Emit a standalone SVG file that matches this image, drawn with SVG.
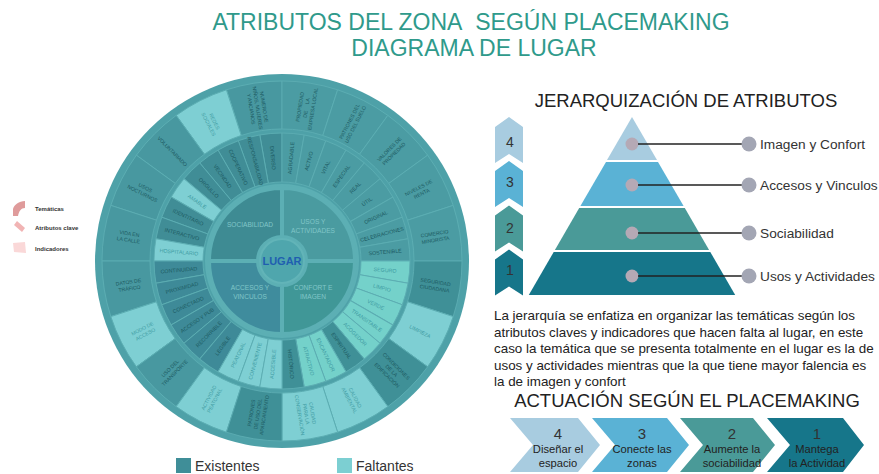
<svg xmlns="http://www.w3.org/2000/svg" width="879" height="474" viewBox="0 0 879 474">
<style>
text{font-family:"Liberation Sans",Arial,Helvetica,sans-serif}
.w{font-size:5.3px;fill:#1c5a62;text-anchor:middle}
.wi{font-size:5.1px;fill:#1c5a62;text-anchor:middle}
.wl{fill:#3f9ca3}
.q{font-size:6.6px;fill:#80c6c8;text-anchor:middle}
.ex1{fill:#4898a0}
.ex2{fill:#408d96}
.ex3{fill:#3e8a98}
.ex4{fill:#4b9ca3}
.ex5{fill:#3f9097}
.lt{fill:#7ecfd3}
.ltg{fill:#74d1ca}
.cell{stroke:#5cadb2;stroke-width:0.9}
.lbl{font-size:13.7px;fill:#333}
.num{font-size:14px;fill:#333;text-anchor:middle}
.snum{font-size:15px;fill:#333;text-anchor:middle}
.stp{font-size:11.2px;fill:#222;text-anchor:middle}
.para{font-size:13.4px;fill:#222}
.hd{font-size:18.5px;fill:#222;text-anchor:middle}
.lg{font-size:6px;font-weight:bold;fill:#333}
</style>
<defs>
<path id="att" d="M79,0 L128,0 A128,128 0 0 1 126.055,22.227 L77.8,13.718 A79,79 0 0 0 79,0 Z"/>
<path id="ind" d="M132,0 L180,0 A180,180 0 0 1 171.19,55.623 L125.54,40.79 A132,132 0 0 0 132,0 Z"/>
<path id="quad" d="M24,0 L73,0 A73,73 0 0 1 0,73 L0,24 A24,24 0 0 0 24,0 Z"/>
</defs>

<g id="title" fill="#2f9a8b" font-size="23" text-anchor="middle">
<text x="471" y="30">ATRIBUTOS DEL ZONA&#160; SEGÚN PLACEMAKING</text>
<text x="474" y="56">DIAGRAMA DE LUGAR</text>
</g>

<g id="wheel" transform="translate(282,261)">
<circle r="187" fill="#4ea1a8"/>
<circle r="77" fill="#5cafb4"/>
<g id="indicator-cells" class="cell">
<use href="#ind" class="ex1" transform="rotate(-108)"/>
<use href="#ind" class="lt" transform="rotate(-126)"/>
<use href="#ind" class="ex1" transform="rotate(-144)"/>
<use href="#ind" class="ex1" transform="rotate(-162)"/>
<use href="#ind" class="ex1" transform="rotate(-180)"/>
<use href="#ind" class="ex4" transform="rotate(-90)"/>
<use href="#ind" class="ex4" transform="rotate(-72)"/>
<use href="#ind" class="ex4" transform="rotate(-54)"/>
<use href="#ind" class="ex4" transform="rotate(-36)"/>
<use href="#ind" class="ex4" transform="rotate(-18)"/>
<use href="#ind" class="ex5" transform="rotate(0)"/>
<use href="#ind" class="lt" transform="rotate(18)"/>
<use href="#ind" class="ex5" transform="rotate(36)"/>
<use href="#ind" class="lt" transform="rotate(54)"/>
<use href="#ind" class="lt" transform="rotate(72)"/>
<use href="#ind" class="ex1" transform="rotate(162)"/>
<use href="#ind" class="lt" transform="rotate(144)"/>
<use href="#ind" class="ex1" transform="rotate(126)"/>
<use href="#ind" class="lt" transform="rotate(108)"/>
<use href="#ind" class="ex5" transform="rotate(90)"/>
</g>
<g id="attribute-cells" class="cell">
<use href="#att" class="ex2" transform="rotate(-100)"/>
<use href="#att" class="ex2" transform="rotate(-110)"/>
<use href="#att" class="ex2" transform="rotate(-120)"/>
<use href="#att" class="ex2" transform="rotate(-130)"/>
<use href="#att" class="ex2" transform="rotate(-140)"/>
<use href="#att" class="lt" transform="rotate(-150)"/>
<use href="#att" class="ex2" transform="rotate(-160)"/>
<use href="#att" class="ex2" transform="rotate(-170)"/>
<use href="#att" class="lt" transform="rotate(-180)"/>
<use href="#att" class="ex4" transform="rotate(-90)"/>
<use href="#att" class="ex4" transform="rotate(-80)"/>
<use href="#att" class="ex4" transform="rotate(-70)"/>
<use href="#att" class="ex4" transform="rotate(-60)"/>
<use href="#att" class="ex4" transform="rotate(-50)"/>
<use href="#att" class="ex4" transform="rotate(-40)"/>
<use href="#att" class="ex4" transform="rotate(-30)"/>
<use href="#att" class="ex4" transform="rotate(-20)"/>
<use href="#att" class="ex4" transform="rotate(-10)"/>
<use href="#att" class="ltg" transform="rotate(0)"/>
<use href="#att" class="ltg" transform="rotate(10)"/>
<use href="#att" class="ltg" transform="rotate(20)"/>
<use href="#att" class="ltg" transform="rotate(30)"/>
<use href="#att" class="ltg" transform="rotate(40)"/>
<use href="#att" class="ex5" transform="rotate(50)"/>
<use href="#att" class="ltg" transform="rotate(60)"/>
<use href="#att" class="ltg" transform="rotate(70)"/>
<use href="#att" class="ex5" transform="rotate(80)"/>
<use href="#att" class="ex3" transform="rotate(170)"/>
<use href="#att" class="ex3" transform="rotate(160)"/>
<use href="#att" class="ex3" transform="rotate(150)"/>
<use href="#att" class="ex3" transform="rotate(140)"/>
<use href="#att" class="ex3" transform="rotate(130)"/>
<use href="#att" class="ex3" transform="rotate(120)"/>
<use href="#att" class="lt" transform="rotate(110)"/>
<use href="#att" class="lt" transform="rotate(100)"/>
<use href="#att" class="lt" transform="rotate(90)"/>
</g>
<g id="thematic" stroke="#5cafb4" stroke-width="4">
<use href="#quad" fill="#409797" transform="rotate(0)"/>
<use href="#quad" fill="#3f8c9d" transform="rotate(90)"/>
<use href="#quad" fill="#3e8b93" transform="rotate(180)"/>
<use href="#quad" fill="#4a9ba0" transform="rotate(270)"/>
</g>
<g id="lugar">
<circle r="22" fill="#4fa6ad" stroke="#62b4b8" stroke-width="2"/>
<text y="4" font-size="11" font-weight="bold" fill="#1f5fb0" text-anchor="middle">LUGAR</text>
</g>
<g id="thematic-labels">
<text class="q" x="-32" y="-34">SOCIABILIDAD</text>
<text class="q" x="31" y="-37">USOS Y<tspan x="31" dy="8.5">ACTIVIDADES</tspan></text>
<text class="q" x="-32" y="29">ACCESOS Y<tspan x="-32" dy="8.5">VINCULOS</tspan></text>
<text class="q" x="31" y="29">CONFORT E<tspan x="31" dy="8.5">IMAGEN</tspan></text>
</g>
<g id="attribute-labels" class="w">
<text transform="rotate(-95) translate(103.5,0) rotate(180)" y="1.9">DIVERSO</text>
<text transform="rotate(-105) translate(103.5,0) rotate(180)" y="1.9">RESPONSABILIDAD</text>
<text transform="rotate(-115) translate(103.5,0) rotate(180)" y="1.9">COOPERATIVO</text>
<text transform="rotate(-125) translate(103.5,0) rotate(180)" y="1.9">VECINDAD</text>
<text transform="rotate(-135) translate(103.5,0) rotate(180)" y="1.9">ORGULLO</text>
<text class="wl" transform="rotate(-145) translate(103.5,0) rotate(180)" y="1.9">AMABLE</text>
<text transform="rotate(-155) translate(103.5,0) rotate(180)" y="1.9">IDENTITARIO</text>
<text transform="rotate(-165) translate(103.5,0) rotate(180)" y="1.9">INTERACTIVO</text>
<text class="wl" transform="rotate(-175) translate(103.5,0) rotate(180)" y="1.9">HOSPITALARIO</text>
<text transform="rotate(-85) translate(103.5,0)" y="1.9">AGRADABLE</text>
<text transform="rotate(-75) translate(103.5,0)" y="1.9">ACTIVO</text>
<text transform="rotate(-65) translate(103.5,0)" y="1.9">VITAL</text>
<text transform="rotate(-55) translate(103.5,0)" y="1.9">ESPECIAL</text>
<text transform="rotate(-45) translate(103.5,0)" y="1.9">REAL</text>
<text transform="rotate(-35) translate(103.5,0)" y="1.9">ÚTIL</text>
<text transform="rotate(-25) translate(103.5,0)" y="1.9">ORIGINAL</text>
<text transform="rotate(-15) translate(103.5,0)" y="1.9">CELEBRACIONES</text>
<text transform="rotate(-5) translate(103.5,0)" y="1.9">SOSTENIBLE</text>
<text class="wl" transform="rotate(5) translate(103.5,0)" y="1.9">SEGURO</text>
<text class="wl" transform="rotate(15) translate(103.5,0)" y="1.9">LIMPIO</text>
<text class="wl" transform="rotate(25) translate(103.5,0)" y="1.9">VERDE</text>
<text class="wl" transform="rotate(35) translate(103.5,0)" y="1.9">TRANSITABLE</text>
<text class="wl" transform="rotate(45) translate(103.5,0)" y="1.9">ACOGEDOR</text>
<text transform="rotate(55) translate(103.5,0)" y="1.9">ESPIRITUAL</text>
<text class="wl" transform="rotate(65) translate(103.5,0)" y="1.9">ENCANTADOR</text>
<text class="wl" transform="rotate(75) translate(103.5,0)" y="1.9">ATRACTIVO</text>
<text transform="rotate(85) translate(103.5,0)" y="1.9">HISTÓRICO</text>
<text transform="rotate(175) translate(103.5,0) rotate(180)" y="1.9">CONTINUIDAD</text>
<text transform="rotate(165) translate(103.5,0) rotate(180)" y="1.9">PROXIMIDAD</text>
<text transform="rotate(155) translate(103.5,0) rotate(180)" y="1.9">CONECTADO</text>
<text transform="rotate(145) translate(103.5,0) rotate(180)" y="1.9">ACCESO Y PUB</text>
<text transform="rotate(135) translate(103.5,0) rotate(180)" y="1.9">RECORRIBLE</text>
<text transform="rotate(125) translate(103.5,0) rotate(180)" y="1.9">LEGIBLE</text>
<text class="wl" transform="rotate(115) translate(103.5,0) rotate(180)" y="1.9">PEATONAL</text>
<text class="wl" transform="rotate(105) translate(103.5,0) rotate(180)" y="1.9">CONVENIENTE</text>
<text class="wl" transform="rotate(95) translate(103.5,0) rotate(180)" y="1.9">ACCESIBLE</text>
</g>
<g id="indicator-labels" class="wi">
<text transform="rotate(-99) translate(155,0) rotate(180)" y="-4.6">NUMERO DE<tspan x="0" dy="6.5">NIÑOS, MUJERES</tspan><tspan x="0" dy="6.5">Y ANCIANOS</tspan></text>
<text class="wl" transform="rotate(-117) translate(155,0) rotate(180)" y="-1.4">REDES<tspan x="0" dy="6.5">SOCIALES</tspan></text>
<text transform="rotate(-135) translate(155,0) rotate(180)" y="1.9">VOLUNTARIADO</text>
<text transform="rotate(-153) translate(155,0) rotate(180)" y="-1.4">USOS<tspan x="0" dy="6.5">NOCTURNOS</tspan></text>
<text transform="rotate(-171) translate(155,0) rotate(180)" y="-1.4">VIDA EN<tspan x="0" dy="6.5">LA CALLE</tspan></text>
<text transform="rotate(-81) translate(155,0)" y="-4.6">PROPIEDAD<tspan x="0" dy="6.5" word-spacing="5">DE LA</tspan><tspan x="0" dy="6.5">EMPRESA LOCAL</tspan></text>
<text transform="rotate(-63) translate(155,0)" y="-1.4">PATRONES DEL<tspan x="0" dy="6.5">USO DEL SUELO</tspan></text>
<text transform="rotate(-45) translate(155,0)" y="-1.4">VALORES DE<tspan x="0" dy="6.5">PROPIEDAD</tspan></text>
<text transform="rotate(-27) translate(155,0)" y="-1.4">NIVELES DE<tspan x="0" dy="6.5">RENTA</tspan></text>
<text transform="rotate(-9) translate(155,0)" y="-1.4">COMERCIO<tspan x="0" dy="6.5">MINORISTA</tspan></text>
<text transform="rotate(9) translate(155,0)" y="-1.4">SEGURIDAD<tspan x="0" dy="6.5">CIUDADANA</tspan></text>
<text class="wl" transform="rotate(27) translate(155,0)" y="1.9">LIMPIEZA</text>
<text transform="rotate(45) translate(155,0)" y="-4.6">CONDICIONES<tspan x="0" dy="6.5">DE LA</tspan><tspan x="0" dy="6.5">EDIFICACIÓN</tspan></text>
<text class="wl" transform="rotate(63) translate(155,0)" y="-1.4">CALIDAD<tspan x="0" dy="6.5">AMBIENTAL</tspan></text>
<text class="wl" transform="rotate(81) translate(155,0)" y="-4.6">CALIDAD<tspan x="0" dy="6.5">PARA LA</tspan><tspan x="0" dy="6.5">CONSERVACIÓN</tspan></text>
<text transform="rotate(171) translate(155,0) rotate(180)" y="-1.4">DATOS DE<tspan x="0" dy="6.5">TRÁFICO</tspan></text>
<text class="wl" transform="rotate(153) translate(155,0) rotate(180)" y="-1.4">MODO DE<tspan x="0" dy="6.5">ACCESO</tspan></text>
<text transform="rotate(135) translate(155,0) rotate(180)" y="-1.4">USO DEL<tspan x="0" dy="6.5">TRANSPORTE</tspan></text>
<text class="wl" transform="rotate(117) translate(155,0) rotate(180)" y="-1.4">ACTIVIDAD<tspan x="0" dy="6.5">PEATONAL</tspan></text>
<text transform="rotate(99) translate(155,0) rotate(180)" y="-4.6">PATRONES<tspan x="0" dy="6.5">DE USO DEL</tspan><tspan x="0" dy="6.5">APARCAMIENTO</tspan></text>
</g>
</g>

<g id="legend-wheel">
<path d="M13,216 L13,209 C14,205 19,201 25,201 L25,208 C21,208 19,211 18,216 Z" fill="#df9b9b"/>
<text class="lg" x="35" y="211">Temáticas</text>
<path d="M14,225 L17,221 L25,228 L22,232 Z" fill="#f1b4b4"/>
<text class="lg" x="35" y="230">Atributos clave</text>
<path d="M13,243 L25,242 L26,253 L14,252 Z" fill="#fad8d8"/>
<text class="lg" x="35" y="251">Indicadores</text>
</g>

<g id="legend-status">
<rect x="176" y="458" width="15" height="15" fill="#3f8e98"/>
<text x="195" y="471" font-size="14" fill="#333">Existentes</text>
<rect x="337" y="458" width="15" height="15" fill="#7ccfd2"/>
<text x="356" y="471" font-size="14" fill="#333">Faltantes</text>
</g>

<text id="jerarquia-title" class="hd" x="686" y="107">JERARQUIZACIÓN DE ATRIBUTOS</text>

<g id="levels">
<g id="level4"><path d="M495,127 L509,117 L523,127 L523,163 L509,154 L495,163 Z" fill="#a8cce0"/><text class="num" x="510" y="147">4</text></g>
<g id="level3"><path d="M495,171 L509,161 L523,171 L523,207 L509,198 L495,207 Z" fill="#5ab2d5"/><text class="num" x="510" y="187">3</text></g>
<g id="level2"><path d="M495,215.5 L509,205.5 L523,215.5 L523,251.5 L509,242.5 L495,251.5 Z" fill="#4a9a98"/><text class="num" x="510" y="233">2</text></g>
<g id="level1"><path d="M495,259.5 L509,249.5 L523,259.5 L523,295.5 L509,286.5 L495,295.5 Z" fill="#16768a"/><text class="num" x="510" y="275">1</text></g>
</g>

<g id="pyramid">
<g id="layer-imagen"><path d="M632,117 L657,160 L607,160 Z" fill="#a8cce0"/><circle cx="632" cy="144" r="6.5" fill="#b5a9b5"/></g>
<g id="layer-accesos"><path d="M606,162 L658,162 L683.6,206 L580.4,206 Z" fill="#5ab2d5"/><circle cx="632" cy="185" r="6.5" fill="#b5a9b5"/></g>
<g id="layer-sociabilidad"><path d="M579.2,208 L684.8,208 L709.1,250 L554.9,250 Z" fill="#4a9a98"/><circle cx="632" cy="233" r="6.5" fill="#b5a9b5"/></g>
<g id="layer-usos"><path d="M553.7,252 L710.3,252 L735.2,295 L528.8,295 Z" fill="#16768a"/><circle cx="632" cy="276" r="6.5" fill="#b5a9b5"/></g>
</g>

<g id="connectors" stroke="#222" stroke-width="1.5">
<line x1="638" y1="144" x2="742" y2="144"/>
<line x1="638" y1="185" x2="742" y2="185"/>
<line x1="638" y1="233" x2="742" y2="233"/>
<line x1="638" y1="276" x2="742" y2="276"/>
</g>

<g id="pyramid-labels">
<circle cx="749" cy="144" r="7.5" fill="#a3a6b4"/><text class="lbl" x="760" y="149">Imagen y Confort</text>
<circle cx="749" cy="185" r="7.5" fill="#a3a6b4"/><text class="lbl" x="760" y="190">Accesos y Vinculos</text>
<circle cx="749" cy="233" r="7.5" fill="#a3a6b4"/><text class="lbl" x="760" y="238">Sociabilidad</text>
<circle cx="749" cy="276" r="7.5" fill="#a3a6b4"/><text class="lbl" x="760" y="281">Usos y Actividades</text>
</g>

<g id="paragraph" class="para">
<text x="494" y="320">La jerarquía se enfatiza en organizar las temáticas según los</text>
<text x="494" y="337">atributos claves y indicadores que hacen falta al lugar, en este</text>
<text x="494" y="353">caso la temática que se presenta totalmente en el lugar es la de</text>
<text x="494" y="370">usos y actividades mientras que la que tiene mayor falencia es</text>
<text x="494" y="386">la de imagen y confort</text>
</g>

<text id="actuacion-title" class="hd" x="687" y="407">ACTUACIÓN SEGÚN EL PLACEMAKING</text>

<g id="steps">
<g id="step4"><path d="M510,418 L578,418 L600,445 L578,472 L510,472 L533,445 Z" fill="#a8cce0"/><text class="snum" x="558" y="439">4</text><text class="stp" x="558" y="453">Diseñar el<tspan x="558" dy="13.5">espacio</tspan></text></g>
<g id="step3"><path d="M592,418 L667,418 L689,445 L667,472 L592,472 L615,445 Z" fill="#5ab2d5"/><text class="snum" x="642" y="439">3</text><text class="stp" x="642" y="453">Conecte las<tspan x="642" dy="13.5">zonas</tspan></text></g>
<g id="step2"><path d="M680,418 L753,418 L775,445 L753,472 L680,472 L703,445 Z" fill="#4a9a98"/><text class="snum" x="732" y="439">2</text><text class="stp" x="732" y="453">Aumente la<tspan x="732" dy="13.5">sociabilidad</tspan></text></g>
<g id="step1"><path d="M767,418 L843,418 L864,445 L843,472 L767,472 L790,445 Z" fill="#16768a"/><text class="snum" x="817" y="439">1</text><text class="stp" x="817" y="453">Mantega<tspan x="817" dy="13.5">la Actividad</tspan></text></g>
</g>
</svg>
